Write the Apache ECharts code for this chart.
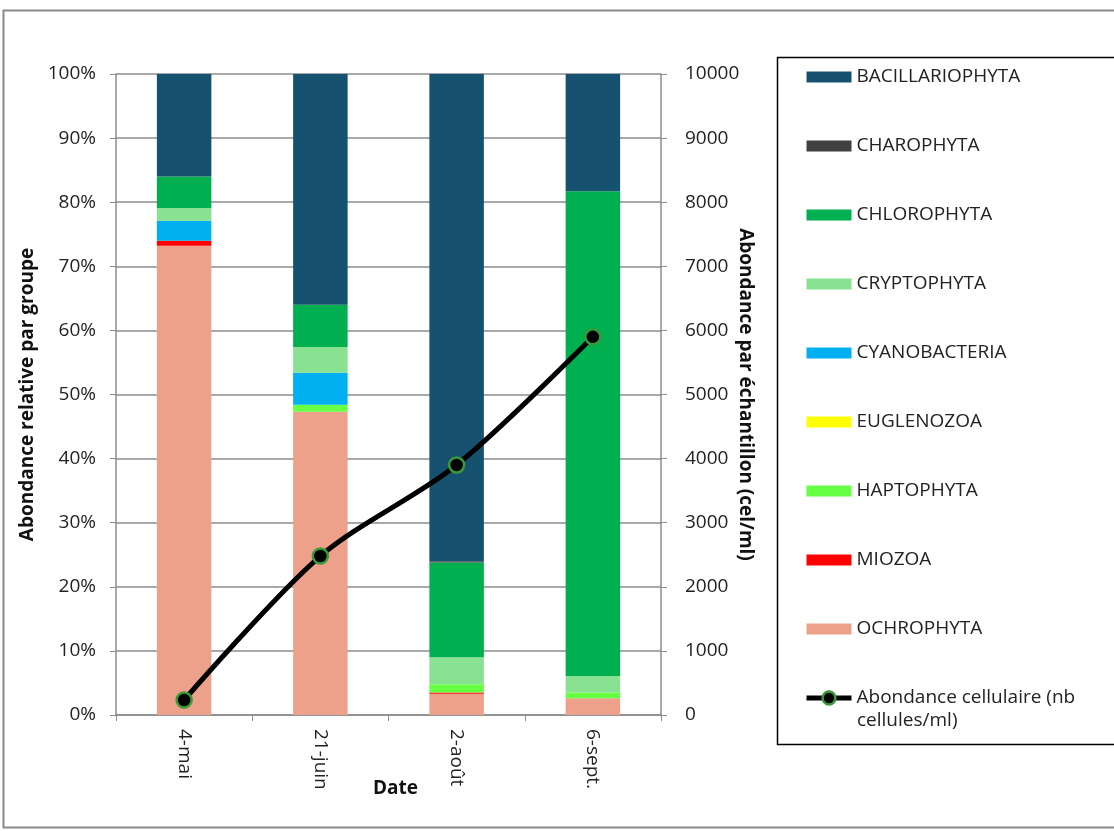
<!DOCTYPE html>
<html><head><meta charset="utf-8">
<script src="https://cdn.jsdelivr.net/npm/echarts@6/dist/echarts.min.js"></script>
<style>html,body{margin:0;padding:0;background:#fff}#c{width:1114px;height:831px}</style>
</head><body><div id="c"></div>
<script>
const categories = ['4-mai', '21-juin', '2-août', '6-sept.'];
const ochrophyta = [73.2, 47.3, 3.3, 2.6];
const miozoa = [0.8, 0, 0.2, 0];
const haptophyta = [0, 1.1, 1.3, 0.9];
const euglenozoa = [0, 0, 0, 0];
const cyanobacteria = [3.1, 5.0, 0, 0];
const cryptophyta = [2.0, 4.0, 4.2, 2.6];
const chlorophyta = [4.9, 6.6, 14.8, 75.6];
const charophyta = [0, 0, 0.2, 0];
const bacillariophyta = [16.0, 36.0, 76.0, 18.3];
const abondance = [234, 2480, 3900, 5900];
const leftTicks = [0, 100, 10];
const rightTicks = [0, 10000, 1000];

const groups = [
  ['OCHROPHYTA', ochrophyta, '#EDA18B'],
  ['MIOZOA', miozoa, '#FF0000'],
  ['HAPTOPHYTA', haptophyta, '#66FF44'],
  ['EUGLENOZOA', euglenozoa, '#FFFF00'],
  ['CYANOBACTERIA', cyanobacteria, '#00B0F0'],
  ['CRYPTOPHYTA', cryptophyta, '#88E292'],
  ['CHLOROPHYTA', chlorophyta, '#00B050'],
  ['CHAROPHYTA', charophyta, '#404040'],
  ['BACILLARIOPHYTA', bacillariophyta, '#165270']
];
const lineName = 'Abondance cellulaire (nb cellules/ml)';
const font = '"Open Sans", "Noto Sans", sans-serif';
const fs = 19;
const axisGray = '#8c8c8c';

const series = groups.map(g => ({
  name: g[0], type: 'bar', stack: 'tot', data: g[1], barWidth: '40%',
  itemStyle: { color: g[2] }, yAxisIndex: 0
}));
series.push({
  name: lineName, type: 'line', yAxisIndex: 1, data: abondance,
  smooth: 0.3, symbol: 'circle', symbolSize: 15,
  lineStyle: { color: '#000', width: 5 },
  itemStyle: { color: '#000', borderColor: '#3a9a3a', borderWidth: 2.5 },
  z: 5
});

const chart = echarts.init(document.getElementById('c'));
chart.setOption({
  animation: false,
  backgroundColor: '#fff',
  grid: { left: 116, right: 453, top: 74, bottom: 116 },
  graphic: [
    { type: 'rect', shape: { x: 3.5, y: 10.5, width: 1200, height: 817 }, style: { fill: 'none', stroke: '#8a8a8a', lineWidth: 2 }, z: -10 },
    { type: 'rect', shape: { x: 777.5, y: 57.5, width: 400, height: 687 }, style: { fill: '#fff', stroke: '#000', lineWidth: 1.5 }, z: -5 },
    { type: 'text', left: 857, top: 711, style: { text: 'cellules/ml)', font: fs + 'px ' + font, fill: '#222' }, z: 10 }
  ],
  legend: {
    orient: 'vertical', left: 799, top: 60,
    itemWidth: 45, itemHeight: 16, itemGap: 45,
    symbolKeepAspect: true,
    data: groups.slice().reverse().map(g => ({ name: g[0], icon: 'path://M0,0H45V11H0Z' }))
      .concat([{ name: lineName, lineStyle: { width: 5, color: '#000' }, itemStyle: { color: '#000', borderColor: '#3a9a3a', borderWidth: 2.5 } }]),
    textStyle: { fontFamily: font, fontSize: fs, color: '#222', lineHeight: 24 },
    formatter: n => n === lineName ? 'Abondance cellulaire (nb' : n
  },
  xAxis: {
    type: 'category', data: categories,
    name: 'Date', nameLocation: 'middle', nameGap: 64, nameMoveOverlap: false,
    nameTextStyle: { fontFamily: font, fontSize: fs, fontWeight: 'bold', color: '#111', padding: [0, 0, 0, 14] },
    axisLine: { lineStyle: { color: axisGray, width: 1.5 } },
    axisTick: { show: true, length: 6, lineStyle: { color: axisGray } },
    axisLabel: { rotate: -90, margin: 14, fontFamily: font, fontSize: fs, color: '#222' }
  },
  yAxis: [
    {
      type: 'value', min: leftTicks[0], max: leftTicks[1], interval: leftTicks[2],
      name: 'Abondance relative par groupe', nameLocation: 'middle', nameGap: 79, nameMoveOverlap: false,
      nameTextStyle: { fontFamily: font, fontSize: fs, fontWeight: 'bold', color: '#111' },
      axisLine: { show: true, lineStyle: { color: axisGray, width: 1.5 } },
      axisTick: { show: true, length: 6, lineStyle: { color: axisGray } },
      splitLine: { lineStyle: { color: axisGray, width: 1.5 } },
      axisLabel: { formatter: '{value}%', margin: 20, fontFamily: font, fontSize: fs, color: '#222' }
    },
    {
      type: 'value', min: rightTicks[0], max: rightTicks[1], interval: rightTicks[2],
      position: 'right',
      name: 'Abondance par échantillon (cel/ml)', nameLocation: 'middle', nameGap: 75, nameRotate: -90, nameMoveOverlap: false,
      nameTextStyle: { fontFamily: font, fontSize: fs, fontWeight: 'bold', color: '#111' },
      axisLine: { show: true, lineStyle: { color: axisGray, width: 1.5 } },
      axisTick: { show: true, length: 6, lineStyle: { color: axisGray } },
      splitLine: { show: false },
      axisLabel: { margin: 24, fontFamily: font, fontSize: fs, color: '#222', formatter: v => String(v) }
    }
  ],
  series: series
});
</script></body></html>
